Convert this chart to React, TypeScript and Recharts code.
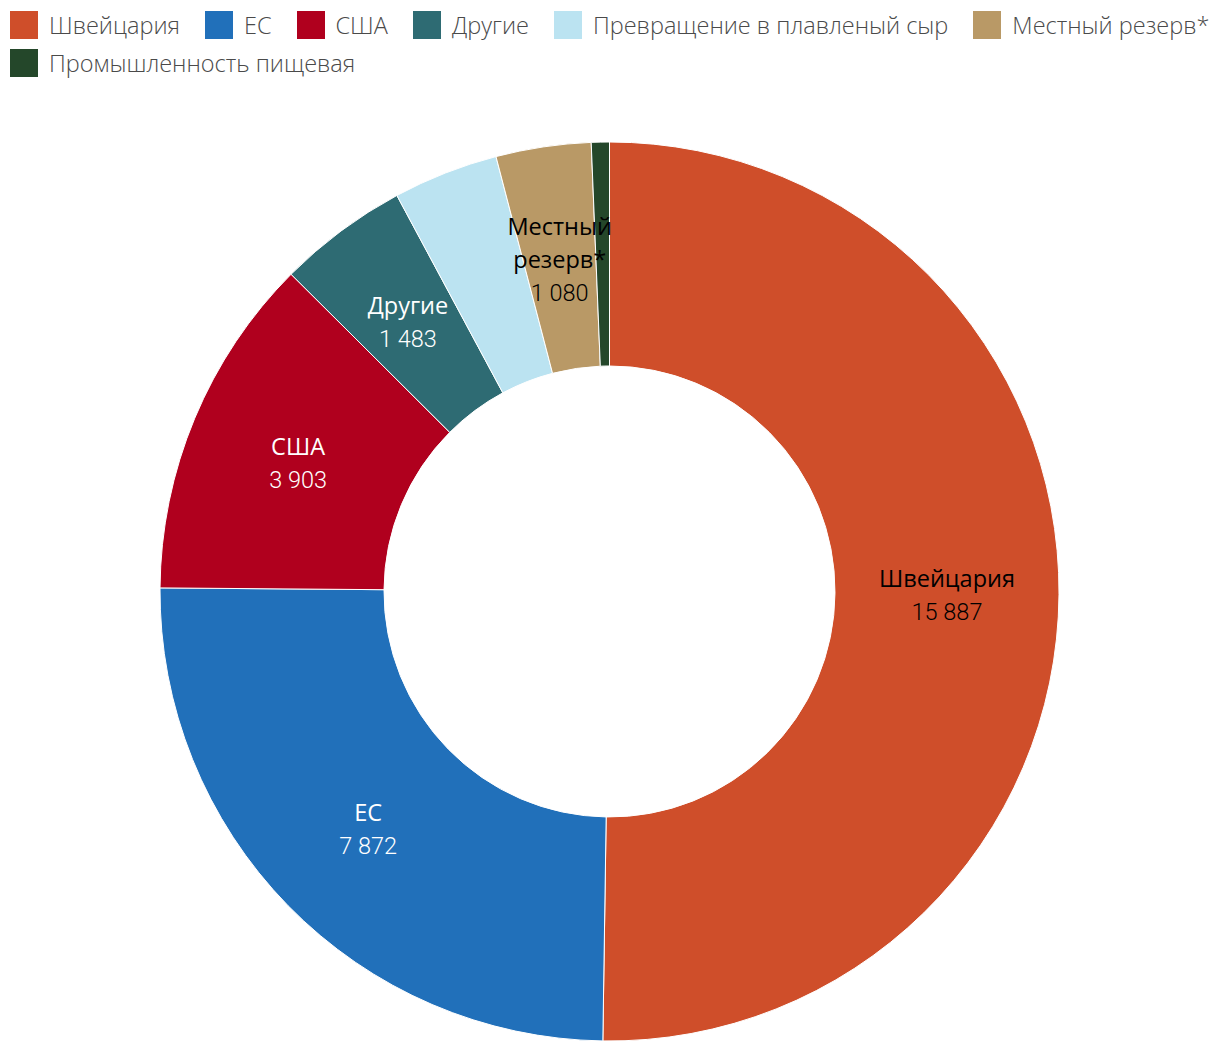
import React from 'react';
import { PieChart, Pie, Cell } from 'recharts';

const categories = [
  'Швейцария',
  'ЕС',
  'США',
  'Другие',
  'Превращение в плавленый сыр',
  'Местный резерв*',
  'Промышленность пищевая',
];
const values = [15887, 7872, 3903, 1483, 1195, 1080, 205];
const colors = ['#CF4E2A', '#2170BA', '#B0001E', '#2E6B73', '#BBE3F1', '#B99966', '#24472A'];
const labelColors = ['#000000', '#FFFFFF', '#FFFFFF', '#FFFFFF', '#000000', '#000000', '#FFFFFF'];
const hiddenLabels = ['Превращение в плавленый сыр', 'Промышленность пищевая'];
const wrappedLabels = ['Местный резерв*'];

const data = categories.map((name, i) => ({ name, value: values[i] }));

const fmt = (v: number) => String(v).replace(/\B(?=(\d{3})+(?!\d))/g, ' ');

const RADIAN = Math.PI / 180;

const renderLabel = (props: any) => {
  const { cx, cy, midAngle, innerRadius, outerRadius, index } = props;
  const name = categories[index];
  if (hiddenLabels.includes(name)) return null;
  const r = (innerRadius + outerRadius) / 2;
  const x = cx + r * Math.cos(-midAngle * RADIAN);
  const y = cy + r * Math.sin(-midAngle * RADIAN);
  const nameLines = wrappedLabels.includes(name) ? name.split(' ') : [name];
  const lines = [...nameLines, fmt(values[index])];
  const n = lines.length;
  const color = labelColors[index];
  return (
    <g>
      {lines.map((t, i) => {
        const isValue = i === n - 1;
        return (
          <text
            key={i}
            x={x}
            y={y + 10 + 33 * (i - (n - 1) / 2)}
            textAnchor="middle"
            fill={color}
            style={{
              fontFamily: isValue ? 'Roboto' : "'Open Sans'",
              fontWeight: isValue ? 300 : 400,
              fontSize: 23.5,
            }}
          >
            {t}
          </text>
        );
      })}
    </g>
  );
};

const LegendBlock = () => (
  <div
    style={{
      position: 'absolute',
      top: 3,
      left: 2,
      display: 'flex',
      flexWrap: 'wrap',
      columnGap: 25,
      rowGap: 10,
      width: 1210,
      fontFamily: "'Open Sans'",
      fontWeight: 300,
      fontSize: 23.5,
      color: '#4a4a4a',
      lineHeight: '28px',
    }}
  >
    {categories.map((n, i) => (
      <div key={n} style={{ display: 'flex', alignItems: 'center', height: 28, whiteSpace: 'nowrap' }}>
        <span style={{ display: 'inline-block', width: 28, height: 28, background: colors[i], marginRight: 11 }} />
        {n}
      </div>
    ))}
  </div>
);

export default function App() {
  return (
    <div style={{ position: 'relative', width: 1204, height: 1036 }}>
      <PieChart width={1204} height={1036} margin={{ top: 0, right: 0, bottom: 0, left: 0 }}>
        <Pie
          data={data}
          dataKey="value"
          nameKey="name"
          cx={601.5}
          cy={583.5}
          innerRadius={225.5}
          outerRadius={449.5}
          startAngle={90}
          endAngle={-270}
          stroke="#FFFFFF"
          strokeWidth={1}
          labelLine={false}
          label={renderLabel}
          isAnimationActive={false}
        >
          {data.map((d, i) => (
            <Cell key={d.name} fill={colors[i]} />
          ))}
        </Pie>
      </PieChart>
      <LegendBlock />
    </div>
  );
}
